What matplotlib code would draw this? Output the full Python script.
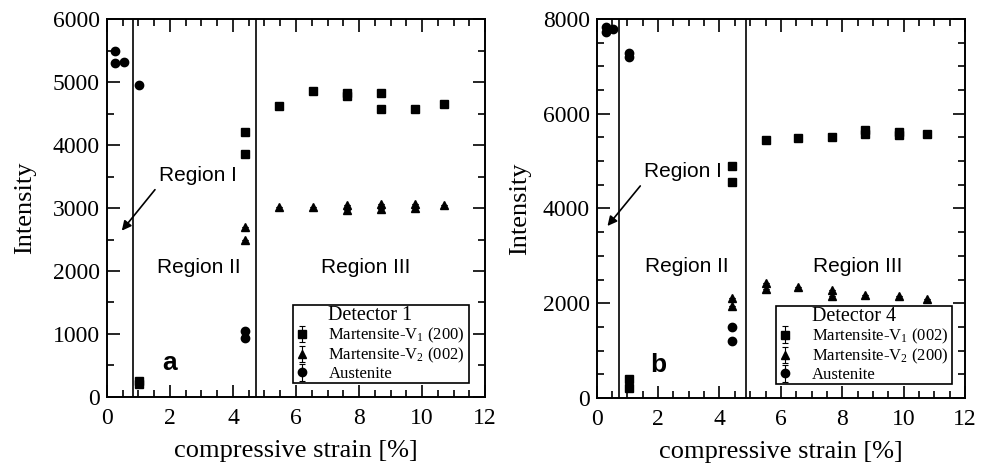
import matplotlib.pyplot as plt
from matplotlib.ticker import MultipleLocator

plt.rcParams['font.family'] = ['Liberation Serif', 'DejaVu Serif']

# Detector 1 (panel a)
a_aus_x = [0.26, 0.26, 0.53, 1.03, 4.37, 4.37]
a_aus_y = [5497, 5296, 5317, 4946, 1043, 943]
a_v1_x = [1.03, 1.03, 4.37, 4.37, 5.45, 6.53, 7.62, 7.62, 8.71, 8.71, 9.79, 10.71]
a_v1_y = [212, 260, 4210, 3861, 4613, 4851, 4820, 4770, 4819, 4571, 4571, 4655]
a_v2_x = [4.37, 4.37, 5.45, 6.53, 7.62, 7.62, 8.71, 8.71, 9.79, 9.79, 10.71]
a_v2_y = [2701, 2489, 3019, 3008, 3050, 2966, 3061, 2987, 3061, 2998, 3050]

# Detector 4 (panel b)
b_aus_x = [0.29, 0.29, 0.54, 1.05, 1.05, 4.42, 4.42]
b_aus_y = [7719, 7838, 7782, 7276, 7206, 1497, 1209]
b_v1_x = [1.05, 1.05, 4.42, 4.42, 5.50, 6.57, 7.68, 8.75, 8.75, 9.84, 9.84, 10.76]
b_v1_y = [408, 211, 4886, 4562, 5441, 5490, 5505, 5660, 5575, 5610, 5550, 5568]
b_v2_x = [4.42, 4.42, 5.50, 5.50, 6.57, 7.68, 7.68, 8.75, 9.84, 10.76]
b_v2_y = [2109, 1933, 2425, 2299, 2341, 2271, 2158, 2172, 2158, 2088]

fig = plt.figure(figsize=(9.87, 4.67), dpi=100)
ax1 = fig.add_axes([0.1084, 0.1499, 0.383, 0.8094])
ax2 = fig.add_axes([0.6046, 0.1478, 0.3731, 0.8116])


def draw_panel(ax, aus, v1, v2, labels, title, ymax, ymajor, bounds, reg_txt,
               reg_arrow, reg2, reg3, letter, leg_box, ypad):
    ax.set_xlim(0, 12)
    ax.set_ylim(0, ymax)
    kw = dict(color='black', ms=6, capsize=2.5, elinewidth=0.8, capthick=0.8)
    h1 = ax.errorbar(v1[0], v1[1], yerr=[0] * len(v1[0]), fmt='s',
                     label=labels[0], **kw)
    h2 = ax.errorbar(v2[0], v2[1], yerr=[0] * len(v2[0]), fmt='^',
                     label=labels[1], **kw)
    h3 = ax.errorbar(aus[0], aus[1], yerr=[0] * len(aus[0]), fmt='o',
                     label=labels[2], **kw)
    for b in bounds:
        ax.axvline(b, color='black', lw=1.2)

    ax.xaxis.set_major_locator(MultipleLocator(2))
    ax.xaxis.set_minor_locator(MultipleLocator(0.5))
    ax.yaxis.set_major_locator(MultipleLocator(ymajor))
    ax.yaxis.set_minor_locator(MultipleLocator(500))
    ax.tick_params(which='both', direction='in', top=True, right=True,
                   labelsize=17, width=1.2)
    ax.tick_params(which='major', length=9)
    ax.tick_params(which='minor', length=5)
    ax.tick_params(axis='x', which='major', pad=8)
    ax.tick_params(axis='y', which='major', pad=5)
    for s in ax.spines.values():
        s.set_linewidth(1.4)

    ax.set_xlabel('compressive strain [%]', fontsize=19, labelpad=8)
    ax.set_ylabel('Intensity', fontsize=19, labelpad=ypad)

    ax.annotate('Region I', xy=reg_arrow, xytext=reg_txt, fontsize=15,
                family='Liberation Sans', ha='left', va='center',
                arrowprops=dict(arrowstyle='-|>', color='black', lw=1.2,
                                mutation_scale=14, shrinkA=2, shrinkB=0,
                                relpos=(0, 0)))
    ax.text(reg2[0], reg2[1], 'Region II', fontsize=15, family='Liberation Sans',
            ha='center', va='center')
    ax.text(reg3[0], reg3[1], 'Region III', fontsize=15, family='Liberation Sans',
            ha='center', va='center')
    ax.text(letter[0], letter[1], letter[2], fontsize=19, fontweight='bold',
            family='Liberation Sans', ha='center', va='center')

    leg = ax.legend(handles=[h1, h2, h3], title='       ' + title, loc='lower left',
                    bbox_to_anchor=leg_box, mode='expand', fontsize=12,
                    title_fontsize=14.5, alignment='left', frameon=True,
                    fancybox=False, edgecolor='black', framealpha=1,
                    handlelength=1.0, handletextpad=1.1, borderpad=0.05,
                    labelspacing=0.05, borderaxespad=0)
    leg.get_frame().set_linewidth(1.2)


draw_panel(ax1, (a_aus_x, a_aus_y), (a_v1_x, a_v1_y), (a_v2_x, a_v2_y),
           ['Martensite-V$\\mathregular{_1}$ (200)',
            'Martensite-V$\\mathregular{_2}$ (002)', 'Austenite'],
           'Detector 1', 6000, 1000, [0.82, 4.72],
           (1.65, 3520), (0.47, 2640), (2.9, 2060), (8.2, 2060),
           (2.0, 540, 'a'), (0.491, 0.037, 0.467, 0.212), 12)

draw_panel(ax2, (b_aus_x, b_aus_y), (b_v1_x, b_v1_y), (b_v2_x, b_v2_y),
           ['Martensite-V$\\mathregular{_1}$ (002)',
            'Martensite-V$\\mathregular{_2}$ (200)', 'Austenite'],
           'Detector 4', 8000, 2000, [0.73, 4.85],
           (1.55, 4780), (0.35, 3630), (2.95, 2770), (8.5, 2770),
           (2.0, 700, 'b'), (0.487, 0.037, 0.477, 0.211), 8)

fig.savefig('out.png', dpi=100)
